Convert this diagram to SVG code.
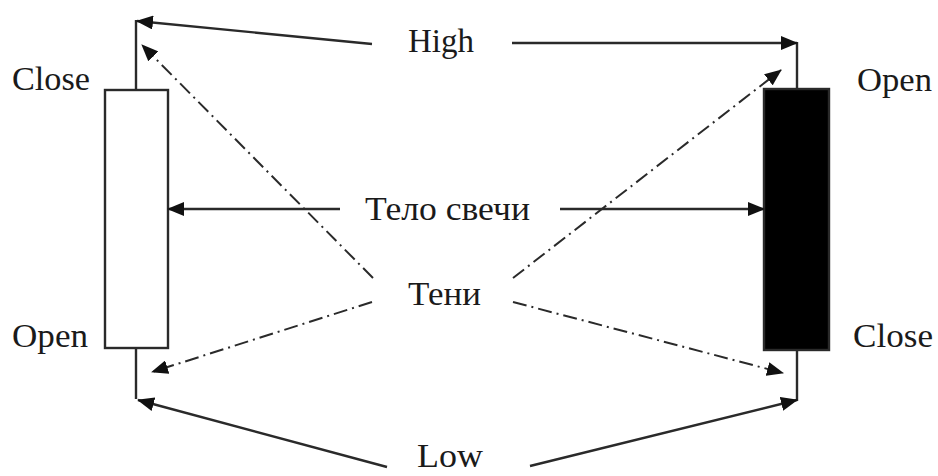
<svg xmlns="http://www.w3.org/2000/svg" width="938" height="476" viewBox="0 0 938 476">
<defs>
<style>
.t{font-family:"Liberation Serif","Times New Roman",serif;font-size:34px;fill:#1a1a1a}
.ln{stroke:#2a2a2a;stroke-width:2.4;fill:none}
.dd{stroke:#2a2a2a;stroke-width:2;fill:none;stroke-dasharray:14 5 2 5}
.box{stroke:#2a2a2a;stroke-width:2.4}
</style>
<marker id="ah" markerUnits="userSpaceOnUse" markerWidth="18" markerHeight="14" refX="16" refY="7" orient="auto" viewBox="0 0 18 14">
<path d="M0,0 L17,7 L0,14 Z" fill="#111"/>
</marker>
</defs>
<rect width="938" height="476" fill="#fff"/>
<g id="candle-white">
<line class="ln" x1="136" y1="20" x2="136" y2="90"/>
<line class="ln" x1="136" y1="348" x2="136" y2="399"/>
<rect class="box" x="105" y="90" width="63" height="258" fill="#fff"/>
<text class="t" x="12" y="90" textLength="78" lengthAdjust="spacingAndGlyphs">Close</text>
<text class="t" x="12" y="347" textLength="76" lengthAdjust="spacingAndGlyphs">Open</text>
</g>
<g id="candle-black">
<line class="ln" x1="797" y1="42" x2="797" y2="90"/>
<line class="ln" x1="797" y1="349" x2="797" y2="401"/>
<rect class="box" x="764" y="89" width="65" height="261" fill="#000"/>
<text class="t" x="857" y="91" textLength="75" lengthAdjust="spacingAndGlyphs">Open</text>
<text class="t" x="853" y="347" textLength="80" lengthAdjust="spacingAndGlyphs">Close</text>
</g>
<g id="labels">
<text class="t" x="408" y="52" textLength="66" lengthAdjust="spacingAndGlyphs">High</text>
<text class="t" x="365" y="220" textLength="165" lengthAdjust="spacingAndGlyphs">Тело свечи</text>
<text class="t" x="408" y="305" textLength="73" lengthAdjust="spacingAndGlyphs">Тени</text>
<text class="t" x="417" y="467" textLength="66" lengthAdjust="spacingAndGlyphs">Low</text>
</g>
<g id="connectors">
<line class="ln" x1="372" y1="44" x2="137" y2="21" marker-end="url(#ah)"/>
<line class="ln" x1="512" y1="43" x2="797" y2="43" marker-end="url(#ah)"/>
<line class="ln" x1="340" y1="209" x2="168" y2="209" marker-end="url(#ah)"/>
<line class="ln" x1="560" y1="209" x2="764" y2="209" marker-end="url(#ah)"/>
<line class="dd" x1="373" y1="278" x2="142" y2="45" marker-end="url(#ah)"/>
<line class="dd" x1="513" y1="278" x2="781" y2="70" marker-end="url(#ah)"/>
<line class="dd" x1="372" y1="302" x2="152" y2="372" marker-end="url(#ah)"/>
<line class="dd" x1="513" y1="302" x2="783" y2="373" marker-end="url(#ah)"/>
<line class="ln" x1="387" y1="467" x2="138" y2="400" marker-end="url(#ah)"/>
<line class="ln" x1="530" y1="466" x2="797" y2="400" marker-end="url(#ah)"/>
</g>
</svg>
